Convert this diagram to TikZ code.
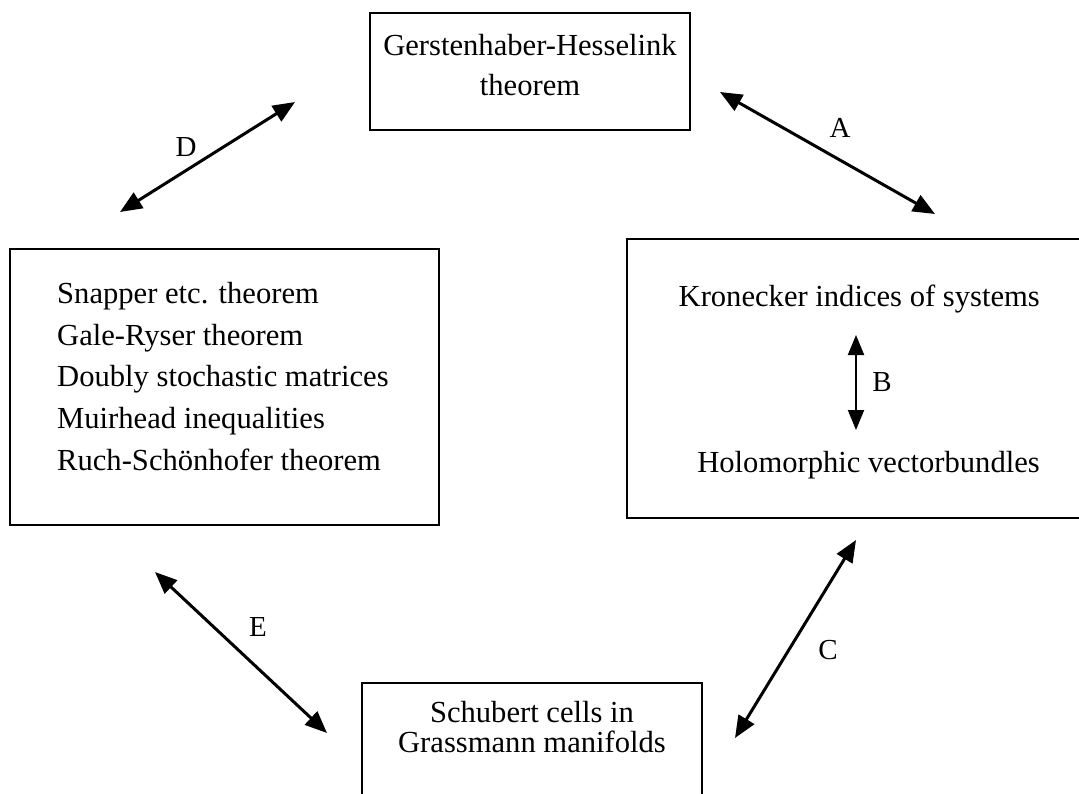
\documentclass[tikz,border=0pt]{standalone}
\usepackage{fontspec}
\setmainfont{Liberation Serif}
\usetikzlibrary{arrows.meta}
\tikzset{
  box/.style={draw, line width=1.4pt, inner sep=0pt},
  txt/.style={font=\fontsize{30.6}{36}\selectfont, inner sep=0pt},
  lbl/.style={font=\fontsize{29}{34}\selectfont, inner sep=0pt},
  dbl/.style={line width=3pt, {Triangle[length=22pt,width=18pt]}-{Triangle[length=22pt,width=18pt]}, shorten <=0pt, shorten >=0pt}
}
\begin{document}
\begin{tikzpicture}[x=1pt,y=-1pt]
\useasboundingbox (0,0) rectangle (1079,793);
\clip (0,0) rectangle (1079,793);
% boxes
\node[box, minimum width=320pt, minimum height=117pt] (top) at (530,71.5) {};
\node[box, minimum width=429pt, minimum height=276pt] (left) at (224.5,387) {};
\node[box, minimum width=458pt, minimum height=279pt] (right) at (856,378.5) {};
\node[box, minimum width=340pt, minimum height=117pt] (bottom) at (532,741.5) {};
% texts
\node[txt, anchor=base] (t1) at (530,55) {Gerstenhaber-Hesselink};
\node[txt, anchor=base] (t2) at (530,95) {theorem};
\node[txt, anchor=base west] (l1) at (57,303) {Snapper etc. theorem};
\node[txt, anchor=base west] (l2) at (57,345) {Gale-Ryser theorem};
\node[txt, anchor=base west] (l3) at (57,386) {Doubly stochastic matrices};
\node[txt, anchor=base west] (l4) at (57,428) {Muirhead inequalities};
\node[txt, anchor=base west] (l5) at (57,470) {Ruch-Schönhofer theorem};
\node[txt, anchor=base east] (r1) at (1040,306) {Kronecker indices of systems};
\node[txt, anchor=base east] (r2) at (1040,472) {Holomorphic vectorbundles};
\node[txt, anchor=base] (b1) at (532,722) {Schubert cells in};
\node[txt, anchor=base] (b2) at (532,752) {Grassmann manifolds};
% arrow end points
\coordinate (Da) at (120,212);
\coordinate (Db) at (295,102);
\coordinate (Aa) at (720,92);
\coordinate (Ab) at (935,214);
\coordinate (Ba) at (856,335);
\coordinate (Bb) at (856,430);
\coordinate (Ca) at (735,738);
\coordinate (Cb) at (856,540);
\coordinate (Ea) at (155,572);
\coordinate (Eb) at (327,733);
\draw[dbl] (Da) -- (Db);
\draw[dbl] (Aa) -- (Ab);
\draw[dbl, line width=2pt, {Triangle[length=20pt,width=16pt]}-{Triangle[length=20pt,width=16pt]}] (Ba) -- (Bb);
\draw[dbl] (Ca) -- (Cb);
\draw[dbl] (Ea) -- (Eb);
% labels
\node[lbl] (la) at (840,128) {A};
\node[lbl] (lb) at (882,382) {B};
\node[lbl] (lc) at (828,650) {C};
\node[lbl] (ld) at (186,147) {D};
\node[lbl] (le) at (258,627) {E};
\end{tikzpicture}
\end{document}
